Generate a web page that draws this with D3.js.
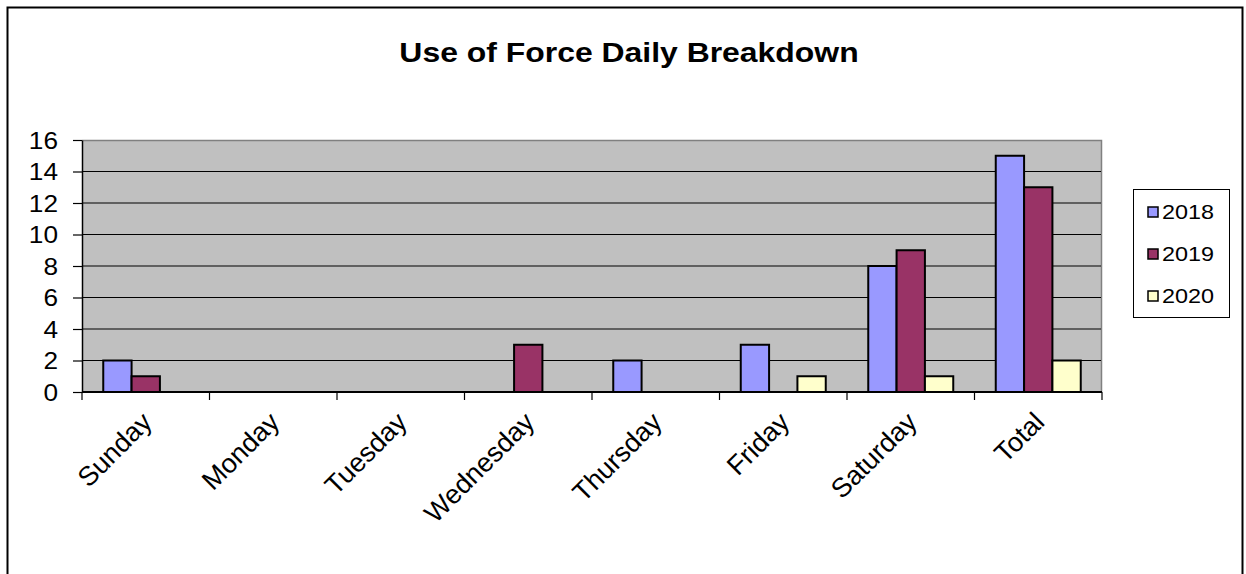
<!DOCTYPE html>
<html>
<head>
<meta charset="utf-8">
<script src="https://cdn.jsdelivr.net/npm/d3@7"></script>
<style>
  html, body { margin: 0; padding: 0; background: #fff; }
  svg { display: block; font-family: "Liberation Sans", Arial, sans-serif; }
</style>
</head>
<body>
<svg id="chart" width="1246" height="574"></svg>
<script>
// Use of force incidents by day of week, per year
const categories = ["Sunday", "Monday", "Tuesday", "Wednesday", "Thursday", "Friday", "Saturday", "Total"];
const seriesNames = ["2018", "2019", "2020"];
const values2018 = [2, 0, 0, 0, 2, 3, 8, 15];
const values2019 = [1, 0, 0, 3, 0, 0, 9, 13];
const values2020 = [0, 0, 0, 0, 0, 1, 1, 2];
const yTicks = [0, 2, 4, 6, 8, 10, 12, 14, 16];
const colors = ["#9999FF", "#993366", "#FFFFCC"];

const seriesValues = [values2018, values2019, values2020];
const svg = d3.select("#chart");

const plot = { left: 82, right: 1102, top: 140, bottom: 392 };
const textStretch = 1.14;

// outer frame
svg.append("rect")
  .attr("x", 7.5).attr("y", 7.5)
  .attr("width", 1235).attr("height", 620)
  .attr("fill", "#fff").attr("stroke", "#000").attr("stroke-width", 2);

// title
svg.append("text")
  .attr("transform", `translate(629,62) scale(${textStretch},1)`)
  .attr("text-anchor", "middle")
  .attr("font-size", 28).attr("font-weight", "bold")
  .text("Use of Force Daily Breakdown");

const x = d3.scaleBand().domain(categories).range([plot.left, plot.right]).padding(0);
const xInner = d3.scaleBand().domain(seriesNames).range([0, x.bandwidth()])
  .paddingInner(0).paddingOuter(0.75);
const y = d3.scaleLinear().domain([0, 16]).range([plot.bottom, plot.top]);

// plot background
svg.append("rect")
  .attr("x", plot.left).attr("y", plot.top)
  .attr("width", plot.right - plot.left).attr("height", plot.bottom - plot.top)
  .attr("fill", "#C0C0C0");
svg.append("path")
  .attr("d", `M${plot.left},${plot.top + 0.5}H${plot.right - 0.5}V${plot.bottom}`)
  .attr("fill", "none").attr("stroke", "#808080").attr("stroke-width", 1.5);

// gridlines
svg.append("g")
  .selectAll("line")
  .data(yTicks.filter(d => d > 0 && d < 16))
  .join("line")
  .attr("x1", plot.left).attr("x2", plot.right - 1)
  .attr("y1", d => y(d)).attr("y2", d => y(d))
  .attr("stroke", "#000").attr("stroke-width", 1.2);

// bars
const groups = svg.append("g")
  .selectAll("g")
  .data(categories)
  .join("g")
  .attr("transform", d => `translate(${x(d)},0)`);

groups.selectAll("rect")
  .data((c, i) => seriesNames.map((s, k) => ({ s, k, v: seriesValues[k][i] })).filter(d => d.v > 0))
  .join("rect")
  .attr("x", d => xInner(d.s))
  .attr("width", xInner.bandwidth())
  .attr("y", d => y(d.v))
  .attr("height", d => y(0) - y(d.v))
  .attr("fill", d => colors[d.k])
  .attr("stroke", "#000").attr("stroke-width", 2);

// y axis
const yAxis = svg.append("g").attr("transform", `translate(${plot.left},0)`)
  .call(d3.axisLeft(y).tickValues(yTicks).tickSize(9).tickSizeOuter(0).tickFormat(d3.format("d")));
yAxis.select(".domain").attr("stroke", "#000").attr("stroke-width", 1.5);
yAxis.selectAll(".tick line").attr("stroke", "#000").attr("stroke-width", 1.2);
yAxis.selectAll(".tick text")
  .attr("x", null).attr("dy", null)
  .attr("font-family", "Liberation Sans, Arial, sans-serif")
  .attr("font-size", 23).attr("fill", "#000")
  .attr("text-anchor", "end")
  .attr("transform", `translate(-24,8) scale(${textStretch},1)`);

// x axis with ticks on category boundaries
const xAxisG = svg.append("g").attr("transform", `translate(0,${plot.bottom})`);
xAxisG.append("line")
  .attr("x1", plot.left).attr("x2", plot.right)
  .attr("stroke", "#000").attr("stroke-width", 1.8);
const boundaries = categories.map(c => x(c)).concat([x(categories[categories.length - 1]) + x.bandwidth()]);
xAxisG.selectAll("line.tick")
  .data(boundaries)
  .join("line").attr("class", "tick")
  .attr("x1", d => d).attr("x2", d => d)
  .attr("y1", 0).attr("y2", 8)
  .attr("stroke", "#000").attr("stroke-width", 1.2);

xAxisG.selectAll("text")
  .data(categories)
  .join("text")
  .attr("transform", d => `translate(${x(d) + x.bandwidth() / 2 + 1},${25}) rotate(-45)`)
  .attr("text-anchor", "end")
  .attr("dy", "0.35em")
  .attr("font-size", 27)
  .text(d => d);

// legend
const legend = svg.append("g").attr("transform", "translate(1133,189)");
legend.append("rect")
  .attr("x", 0.5).attr("y", 0.5).attr("width", 96).attr("height", 128)
  .attr("fill", "#fff").attr("stroke", "#000").attr("stroke-width", 1);
const items = legend.selectAll("g.item")
  .data(seriesNames)
  .join("g").attr("class", "item")
  .attr("transform", (d, i) => `translate(0,${23 + i * 42})`);
items.append("rect")
  .attr("x", 15).attr("y", -5).attr("width", 10).attr("height", 10)
  .attr("fill", (d, i) => colors[i])
  .attr("stroke", "#000").attr("stroke-width", 1.5);
items.append("text")
  .attr("transform", `translate(29,0) scale(1.2,1)`)
  .attr("dy", "0.35em")
  .attr("font-size", 19.5)
  .text(d => d);
</script>
</body>
</html>
